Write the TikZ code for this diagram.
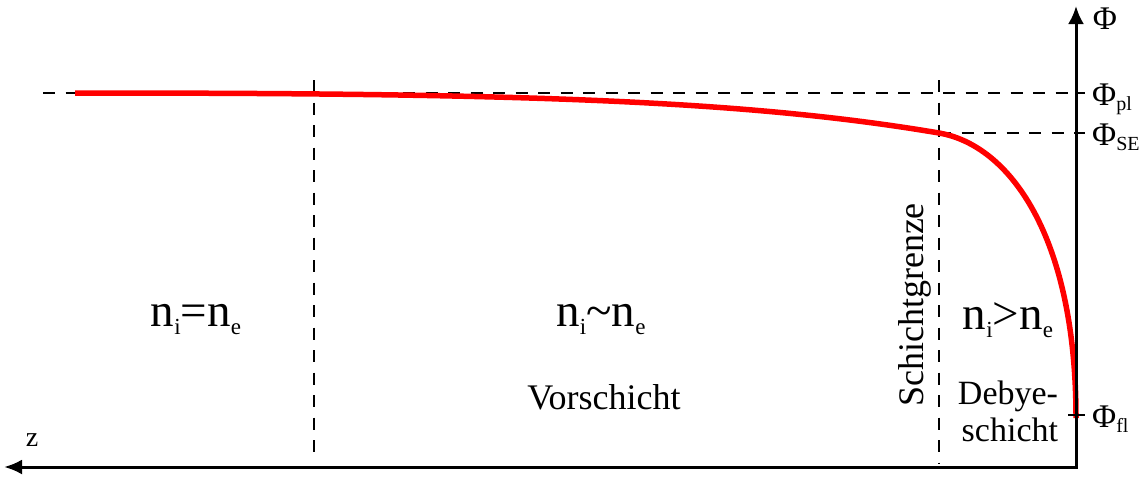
\documentclass[tikz,border=0pt]{standalone}
\usepackage{fontspec}
\setmainfont{Liberation Serif}
\newfontfamily\tnr{Liberation Serif}
\usetikzlibrary{arrows.meta}
\tikzset{
  axis/.style={line width=3pt, line join=miter},
  guide/.style={line width=2.8pt, dash pattern=on 12pt off 10.5pt},
  curve/.style={red, line width=5.5pt},
  formula/.style={inner sep=0pt, font=\tnr\fontsize{47}{50}\selectfont},
  lbl/.style={inner sep=0pt, font=\tnr\fontsize{36}{39}\selectfont},
  phil/.style={inner sep=0pt, anchor=base west, font=\tnr\fontsize{33}{36}\selectfont},
}
\newcommand{\fsub}[1]{\raisebox{-8pt}{\fontsize{23}{24}\selectfont #1}}
\newcommand{\psub}[1]{\raisebox{-5pt}{\fontsize{20}{21}\selectfont #1}}
\begin{document}
\begin{tikzpicture}[x=1pt,y=-1pt]
\useasboundingbox (0,0) rectangle (1148,477);
% coordinates
\coordinate (O) at (1076,467);
\coordinate (Ztip) at (4,467);
\coordinate (Ptip) at (1076,6);
\coordinate (plL) at (43,93);
\coordinate (plR) at (1085,93);
\coordinate (seL) at (939,133);
\coordinate (seR) at (1085,133);
\coordinate (flL) at (1068,415);
\coordinate (flR) at (1085,415);
\coordinate (b1t) at (314,80);
\coordinate (b1b) at (314,461);
\coordinate (b2t) at (939,80);
\coordinate (b2b) at (939,463);
\coordinate (cS) at (75,93);
\coordinate (cM) at (939,133);
\coordinate (cE) at (1076,418);
% guides
\draw[guide] (plL) -- (plR);
\draw[guide] (seL) -- (seR);
\draw[guide] (b1t) -- (b1b);
\draw[guide] (b2t) -- (b2b);
% curve
\draw[curve] (cS) .. controls (500,93) and (739,99) .. (cM)
  .. controls (1009,145) and (1076,235) .. (cE);
% axes
\draw[axis,{Latex[length=18pt,width=15pt]}-{Latex[length=18pt,width=16pt]}] (Ztip) -- (O) -- (Ptip);
\draw[line width=2.6pt] (flL) -- (flR);
% axis labels
\node[inner sep=0pt, font=\tnr\fontsize{33}{36}\selectfont] (phi) at (1105,19) {Φ};
\node[phil] (phipl) at (1092,105) {Φ\psub{pl}};
\node[phil] (phise) at (1092,145) {Φ\psub{SE}};
\node[phil] (phifl) at (1092,427) {Φ\psub{fl}};
\node[inner sep=0pt] (z) at (32,440) {\fontsize{28}{30}\selectfont$\mathrm{z}$};
% region labels
\node[formula] (eq1) at (196,320) {n\fsub{i}=n\fsub{e}};
\node[formula] (eq2) at (601,320) {n\fsub{i}\textasciitilde n\fsub{e}};
\node[formula] (eq3) at (1008,320) {n\fsub{i}\textgreater n\fsub{e}};
\node[lbl] (vor) at (604,397) {Vorschicht};
\node[lbl, rotate=90] (sg) at (915,305) {Schichtgrenze};
\node[lbl, align=right, font=\tnr\fontsize{34}{37}\selectfont] (deb) at (1008,411) {Debye-\\schicht};
\end{tikzpicture}
\end{document}
